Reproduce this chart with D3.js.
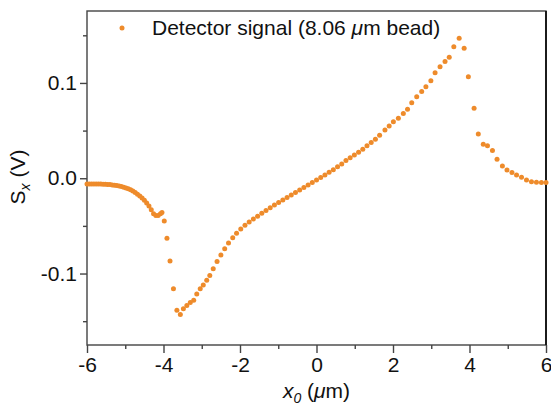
<!DOCTYPE html>
<html>
<head>
<meta charset="utf-8">
<script src="https://cdn.jsdelivr.net/npm/d3@7"></script>
<style>
  html, body { margin: 0; padding: 0; background: #fff; }
  svg { display: block; font-family: "Liberation Sans", Arial, sans-serif; }
</style>
</head>
<body>
<svg id="chart" width="551" height="410"></svg>
<script>
// Messpunkte: Position x0 (µm) und Signal Sx (V)
const x0Values = [
  -6.00, -5.94, -5.88, -5.82, -5.76, -5.70, -5.64, -5.58, -5.52, -5.46,
  -5.40, -5.34, -5.28, -5.22, -5.16, -5.10, -5.04, -4.98, -4.92, -4.86,
  -4.80, -4.74, -4.68, -4.62, -4.56, -4.50, -4.44, -4.38, -4.32, -4.26,
  -4.20, -4.14, -4.08, -4.04,
  -3.98, -3.91, -3.83, -3.74, -3.65, -3.56, -3.48, -3.39, -3.30, -3.21,
  -3.13, -3.04, -2.96, -2.87, -2.79,
  -2.70, -2.60, -2.50, -2.40, -2.30, -2.19, -2.09, -1.98, -1.87, -1.76,
  -1.65, -1.54, -1.43, -1.32, -1.21, -1.10, -0.99, -0.88, -0.77, -0.66,
  -0.55, -0.44, -0.33, -0.22, -0.11, 0.00, 0.11, 0.22, 0.33, 0.44,
  0.55, 0.66, 0.77, 0.88, 0.99, 1.10, 1.21, 1.32, 1.43, 1.54, 1.65,
  1.79, 1.90, 2.01, 2.14, 2.27, 2.38, 2.49, 2.62, 2.75, 2.86,
  2.99, 3.10, 3.23, 3.36, 3.47, 3.59, 3.73, 3.86, 3.97, 4.12,
  4.23, 4.36, 4.47, 4.60, 4.72, 4.86, 4.98, 5.11, 5.23, 5.36,
  5.49, 5.62, 5.75, 5.88, 6.00
];
const sxValues = [
  -0.0060, -0.0060, -0.0060, -0.0060, -0.0060, -0.0060, -0.0061, -0.0062, -0.0063, -0.0065,
  -0.0067, -0.0070, -0.0073, -0.0077, -0.0082, -0.0087, -0.0094, -0.0102, -0.0111, -0.0122,
  -0.0135, -0.0150, -0.0167, -0.0186, -0.0208, -0.0232, -0.0260, -0.0292, -0.0330, -0.0372,
  -0.0392, -0.0390, -0.0372, -0.0360,
  -0.0448, -0.0630, -0.0868, -0.1160, -0.1385, -0.1430, -0.1370, -0.1335, -0.1305, -0.1280,
  -0.1215, -0.1160, -0.1120, -0.1070, -0.1020,
  -0.0950, -0.0875, -0.0805, -0.0740, -0.0680, -0.0625, -0.0576, -0.0532, -0.0494, -0.0460,
  -0.0428, -0.0398, -0.0368, -0.0339, -0.0310, -0.0282, -0.0255, -0.0228, -0.0202, -0.0176,
  -0.0150, -0.0123, -0.0098, -0.0072, -0.0045, -0.0018, 0.0008, 0.0035, 0.0062, 0.0090,
  0.0120, 0.0150, 0.0185, 0.0215, 0.0243, 0.0272, 0.0305, 0.0340, 0.0375, 0.0410, 0.0450,
  0.0507, 0.0549, 0.0594, 0.0630, 0.0680, 0.0724, 0.0793, 0.0856, 0.0910, 0.0960,
  0.1024, 0.1108, 0.1170, 0.1225, 0.1270, 0.1380, 0.1470, 0.1364, 0.1066, 0.0734,
  0.0465, 0.0357, 0.0342, 0.0290, 0.0200, 0.0129, 0.0087, 0.0059, 0.0035, 0.0010,
  -0.0018, -0.0036, -0.0042, -0.0046, -0.0046
];

const xMajorTicks = [-6, -4, -2, 0, 2, 4, 6];
const xMinorTicks = [-5, -3, -1, 1, 3, 5];
const yMajorTicks = [-0.1, 0.0, 0.1];
const yMinorTicks = [-0.15, -0.05, 0.05, 0.15];
const yTickLabels = ["-0.1", "0.0", "0.1"];

const dotColor = "#ee8b2b";

const svg = d3.select("#chart");
const margin = { top: 11, right: 5, bottom: 65, left: 87 };
const width = 551 - margin.left - margin.right;
const height = 410 - margin.top - margin.bottom;

const g = svg.append("g")
  .attr("transform", `translate(${margin.left},${margin.top})`);

const x = d3.scaleLinear().domain([-6, 6]).range([0, width]);
const y = d3.scaleLinear().domain([-0.175, 0.1755]).range([height, 0]);

// Rahmen
g.append("rect")
  .attr("width", width)
  .attr("height", height)
  .attr("fill", "none")
  .attr("stroke", "#444")
  .attr("stroke-width", 1.4);
g.append("line")
  .attr("x1", width).attr("x2", width)
  .attr("y1", 0).attr("y2", height)
  .attr("stroke", "#111")
  .attr("stroke-width", 1.8);

const fontSize = 21;

// x-Achse
const xAxis = g.append("g").attr("transform", `translate(0,${height})`);
xAxis.call(d3.axisBottom(x).tickValues(xMajorTicks).tickSize(8).tickPadding(4)
  .tickFormat(d3.format("d")));
xAxis.select(".domain").remove();
xAxis.selectAll(".tick line").attr("stroke", "#444").attr("stroke-width", 1.4);
xAxis.selectAll(".tick text")
  .attr("font-size", fontSize)
  .attr("fill", "#111")
  .attr("font-family", "Liberation Sans, Arial, sans-serif")
  .text(d => d < 0 ? "-" + Math.abs(d) : d);

const xMinor = g.append("g").attr("transform", `translate(0,${height})`);
xMinor.call(d3.axisBottom(x).tickValues(xMinorTicks).tickSize(4).tickFormat(""));
xMinor.select(".domain").remove();
xMinor.selectAll(".tick line").attr("stroke", "#444").attr("stroke-width", 1.4);

// y-Achse
const yAxis = g.append("g");
yAxis.call(d3.axisLeft(y).tickValues(yMajorTicks).tickSize(7).tickPadding(3)
  .tickFormat((d, i) => yTickLabels[i]));
yAxis.select(".domain").remove();
yAxis.selectAll(".tick line").attr("stroke", "#444").attr("stroke-width", 1.4);
yAxis.selectAll(".tick text")
  .attr("font-size", fontSize)
  .attr("fill", "#111")
  .attr("font-family", "Liberation Sans, Arial, sans-serif");

const yMinor = g.append("g");
yMinor.call(d3.axisLeft(y).tickValues(yMinorTicks).tickSize(4).tickFormat(""));
yMinor.select(".domain").remove();
yMinor.selectAll(".tick line").attr("stroke", "#444").attr("stroke-width", 1.4);

// Punkte
const points = x0Values.map((v, i) => ({ x: v, s: sxValues[i] }));
g.append("g")
  .selectAll("circle")
  .data(points)
  .enter()
  .append("circle")
    .attr("cx", d => x(d.x))
    .attr("cy", d => y(d.s))
    .attr("r", 2.5)
    .attr("fill", dotColor);

// Achsentitel
const xLabel = svg.append("text")
  .attr("x", margin.left + width / 2)
  .attr("y", 398)
  .attr("text-anchor", "middle")
  .attr("font-size", fontSize)
  .attr("fill", "#111");
xLabel.append("tspan").attr("font-style", "italic").text("x");
xLabel.append("tspan").attr("font-style", "italic").attr("font-size", 14).attr("dy", 5).text("0");
xLabel.append("tspan").attr("dy", -5).text(" (");
xLabel.append("tspan").attr("font-style", "italic").text("\u03bc");
xLabel.append("tspan").text("m)");

const yLabel = svg.append("text")
  .attr("transform", "translate(25,177) rotate(-90)")
  .attr("text-anchor", "middle")
  .attr("font-size", fontSize)
  .attr("fill", "#111");
yLabel.append("tspan").text("S");
yLabel.append("tspan").attr("font-style", "italic").attr("font-size", 14).attr("dy", 5).text("x");
yLabel.append("tspan").attr("dy", -5).text(" (V)");

// Legende
svg.append("circle")
  .attr("cx", 122)
  .attr("cy", 28)
  .attr("r", 2.5)
  .attr("fill", dotColor);
const legendText = svg.append("text")
  .attr("x", 152)
  .attr("y", 35)
  .attr("font-size", fontSize)
  .attr("fill", "#111");
legendText.append("tspan").text("Detector signal (8.06 ");
legendText.append("tspan").attr("font-style", "italic").text("\u03bc");
legendText.append("tspan").text("m bead)");
</script>
</body>
</html>
